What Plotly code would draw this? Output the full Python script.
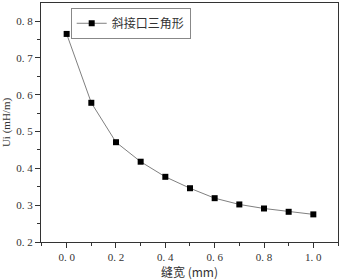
import plotly.graph_objects as go

x_vals = [0.0, 0.1, 0.2, 0.3, 0.4, 0.5, 0.6, 0.7, 0.8, 0.9, 1.0]
ui_vals = [0.765, 0.578, 0.471, 0.418, 0.377, 0.346, 0.319, 0.302, 0.291, 0.282, 0.275]
series_name = "斜接口三角形"
x_ticks = [0.0, 0.2, 0.4, 0.6, 0.8, 1.0]
x_ticklabels = ["0. 0", "0. 2", "0. 4", "0. 6", "0. 8", "1. 0"]
y_ticks = [0.2, 0.3, 0.4, 0.5, 0.6, 0.7, 0.8]
y_ticklabels = ["0. 2", "0. 3", "0. 4", "0. 5", "0. 6", "0. 7", "0. 8"]

serif = "Liberation Serif, DejaVu Serif, Noto Sans CJK SC"
cjk = "Noto Sans CJK SC"

fig = go.Figure()
fig.add_trace(go.Scatter(
    x=x_vals, y=ui_vals, name=series_name, mode="lines+markers",
    line=dict(color="#808080", width=1),
    marker=dict(symbol="square", size=6, color="black"),
))

fig.update_layout(
    width=342, height=280,
    margin=dict(l=41, r=4, t=3, b=38),
    paper_bgcolor="white", plot_bgcolor="white",
    showlegend=True,
    legend=dict(x=0.1, y=0.98, xanchor="left", yanchor="top",
                bordercolor="#888888", borderwidth=1, bgcolor="white",
                font=dict(family=cjk, size=12, color="#333333"),
                itemwidth=30, tracegroupgap=0),
    font=dict(family=serif, size=11, color="#333333"),
)
fig.update_xaxes(
    range=[-0.104, 1.1], tickvals=x_ticks, ticktext=x_ticklabels,
    ticks="outside", ticklen=5, tickwidth=1, tickcolor="#333333",
    showline=True, linecolor="#333333", linewidth=1, mirror=True,
    showgrid=False, zeroline=False,
    minor=dict(ticks="outside", ticklen=3, dtick=0.1, tick0=0, tickcolor="#333333"),
    title=dict(text="缝宽 (mm)", font=dict(family=cjk, size=12, color="#333333"), standoff=5),
    tickfont=dict(family=serif, size=11),
)
fig.update_yaxes(
    range=[0.2, 0.849], tickvals=y_ticks, ticktext=y_ticklabels,
    ticks="outside", ticklen=5, tickwidth=1, tickcolor="#333333",
    showline=True, linecolor="#333333", linewidth=1, mirror=True,
    showgrid=False, zeroline=False,
    minor=dict(ticks="outside", ticklen=3, dtick=0.05, tick0=0.2, tickcolor="#333333"),
    title=dict(text="Ui (mH/m)", font=dict(family=serif, size=11, color="#333333"), standoff=4),
    tickfont=dict(family=serif, size=11),
)

fig.write_html("out.html", config={"displayModeBar": False},
               post_script="document.body.style.margin='0';document.body.style.padding='0';")
